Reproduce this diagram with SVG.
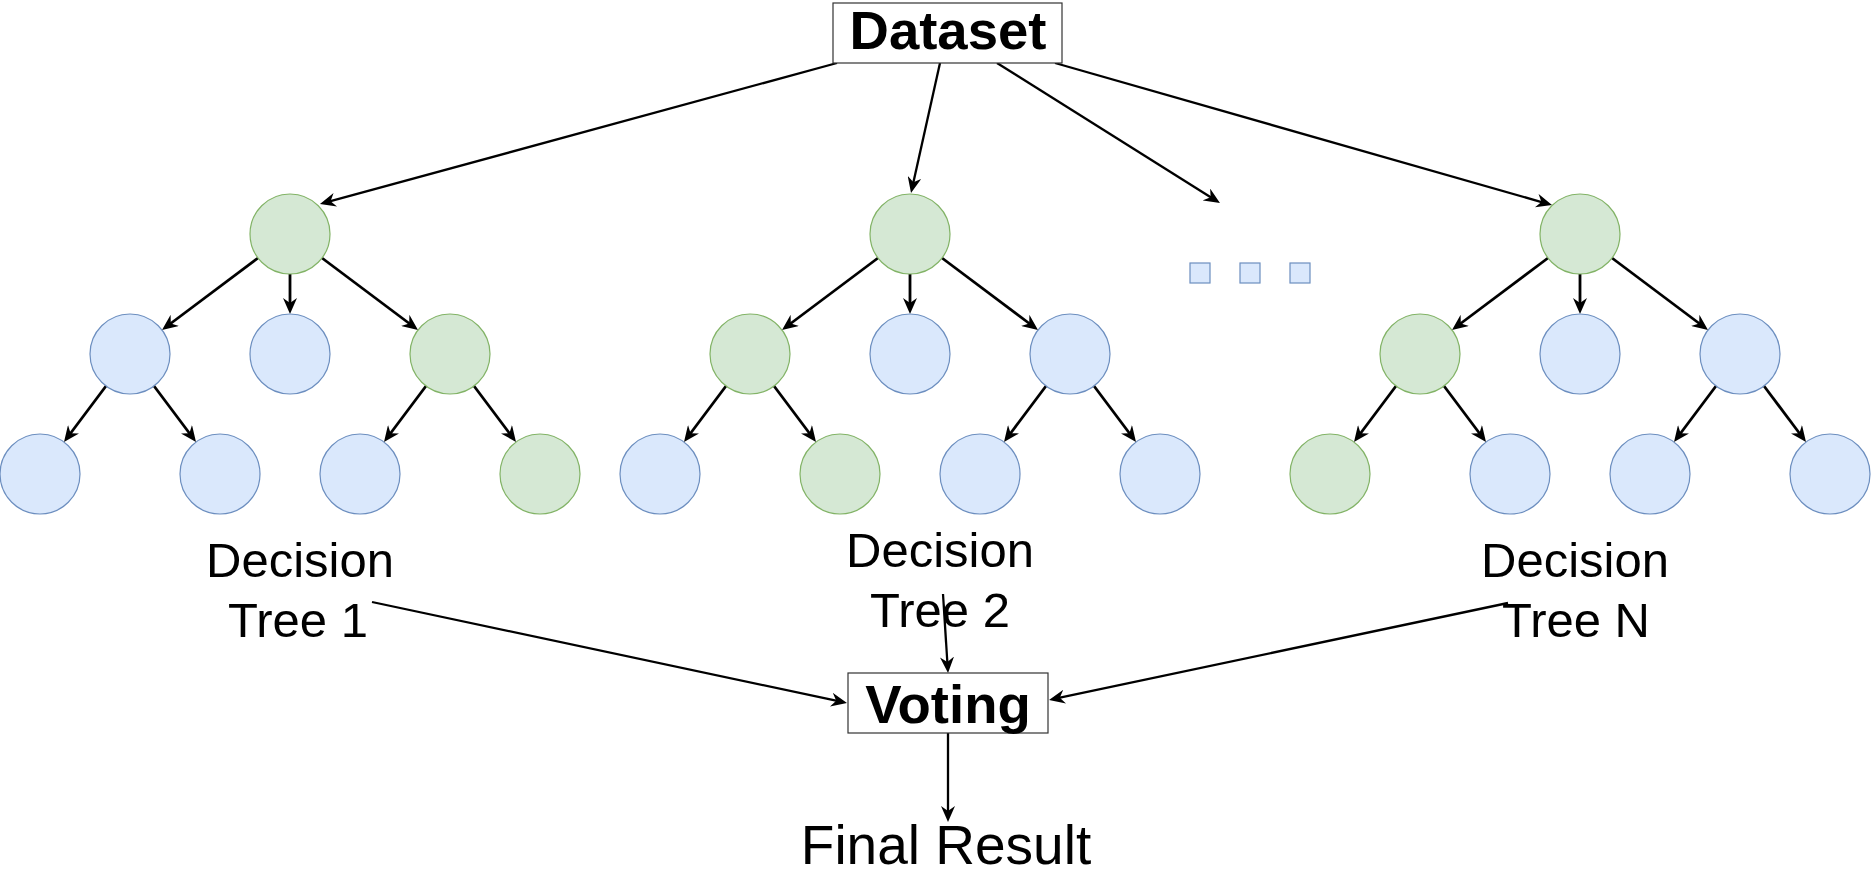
<svg xmlns="http://www.w3.org/2000/svg" width="1871" height="877" viewBox="0 0 1871 877">
<style>
.g{fill:#d5e8d4;stroke:#82b366;stroke-width:1.2}
.b{fill:#dae8fc;stroke:#6c8ebf;stroke-width:1.2}
.box{fill:#fff;stroke:#333;stroke-width:1.2}
.e{stroke:#000;stroke-width:2.3;fill:none;marker-end:url(#arr)}
.te{stroke-width:2.8}
.t{font-family:"Liberation Sans",Arial,sans-serif;fill:#000;text-anchor:middle}
.bold{font-weight:bold;font-size:54.5px}
.lbl{font-size:49px}
</style>
<defs>
<marker id="arr" viewBox="0 0 16 14" refX="6" refY="7" markerWidth="16" markerHeight="14" markerUnits="userSpaceOnUse" orient="auto">
<path d="M0,0 L16,7 L0,14 L5,7 Z" fill="#000"/>
</marker>
</defs>
<g id="connectors">
<line class="e" x1="837" y1="63" x2="329.6" y2="201.4"/>
<line class="e" x1="940" y1="63" x2="913.2" y2="183.2"/>
<line class="e" x1="997" y1="63" x2="1211.5" y2="197.7"/>
<line class="e" x1="1055" y1="63" x2="1542.4" y2="202.3"/>
<!-- tree 1 X=290 -->
<line class="e te" x1="258" y1="258" x2="170" y2="324"/>
<line class="e te" x1="290" y1="274" x2="290" y2="304"/>
<line class="e te" x1="322" y1="258" x2="410" y2="324"/>
<line class="e te" x1="106" y1="386" x2="70" y2="434"/>
<line class="e te" x1="154" y1="386" x2="190" y2="434"/>
<line class="e te" x1="426" y1="386" x2="390" y2="434"/>
<line class="e te" x1="474" y1="386" x2="510" y2="434"/>
<!-- tree 2 X=910 -->
<line class="e te" x1="878" y1="258" x2="790" y2="324"/>
<line class="e te" x1="910" y1="274" x2="910" y2="304"/>
<line class="e te" x1="942" y1="258" x2="1030" y2="324"/>
<line class="e te" x1="726" y1="386" x2="690" y2="434"/>
<line class="e te" x1="774" y1="386" x2="810" y2="434"/>
<line class="e te" x1="1046" y1="386" x2="1010" y2="434"/>
<line class="e te" x1="1094" y1="386" x2="1130" y2="434"/>
<!-- tree N X=1580 -->
<line class="e te" x1="1548" y1="258" x2="1460" y2="324"/>
<line class="e te" x1="1580" y1="274" x2="1580" y2="304"/>
<line class="e te" x1="1612" y1="258" x2="1700" y2="324"/>
<line class="e te" x1="1396" y1="386" x2="1360" y2="434"/>
<line class="e te" x1="1444" y1="386" x2="1480" y2="434"/>
<line class="e te" x1="1716" y1="386" x2="1680" y2="434"/>
<line class="e te" x1="1764" y1="386" x2="1800" y2="434"/>
<!-- to voting -->
<line class="e" x1="372" y1="602" x2="837.2" y2="700.9"/>
<line class="e" x1="943" y1="594" x2="947.4" y2="663"/>
<line class="e" x1="1508" y1="603" x2="1058.8" y2="697.9"/>
<line class="e" x1="948" y1="733" x2="948" y2="812"/>
</g>
<g id="dataset">
<rect class="box" x="833" y="3" width="229" height="60"/>
<text class="t bold" x="948" y="49">Dataset</text>
</g>
<g id="tree1">
<circle class="g" cx="290" cy="234" r="40"/>
<circle class="b" cx="130" cy="354" r="40"/>
<circle class="b" cx="290" cy="354" r="40"/>
<circle class="g" cx="450" cy="354" r="40"/>
<circle class="b" cx="40" cy="474" r="40"/>
<circle class="b" cx="220" cy="474" r="40"/>
<circle class="b" cx="360" cy="474" r="40"/>
<circle class="g" cx="540" cy="474" r="40"/>
<text class="t lbl" x="300" y="577">Decision</text>
<text class="t lbl" x="298" y="637">Tree 1</text>
</g>
<g id="tree2">
<circle class="g" cx="910" cy="234" r="40"/>
<circle class="g" cx="750" cy="354" r="40"/>
<circle class="b" cx="910" cy="354" r="40"/>
<circle class="b" cx="1070" cy="354" r="40"/>
<circle class="b" cx="660" cy="474" r="40"/>
<circle class="g" cx="840" cy="474" r="40"/>
<circle class="b" cx="980" cy="474" r="40"/>
<circle class="b" cx="1160" cy="474" r="40"/>
<text class="t lbl" x="940" y="567">Decision</text>
<text class="t lbl" x="940" y="627">Tree 2</text>
</g>
<g id="ellipsis">
<rect class="b" x="1190" y="263" width="20" height="20"/>
<rect class="b" x="1240" y="263" width="20" height="20"/>
<rect class="b" x="1290" y="263" width="20" height="20"/>
</g>
<g id="treeN">
<circle class="g" cx="1580" cy="234" r="40"/>
<circle class="g" cx="1420" cy="354" r="40"/>
<circle class="b" cx="1580" cy="354" r="40"/>
<circle class="b" cx="1740" cy="354" r="40"/>
<circle class="g" cx="1330" cy="474" r="40"/>
<circle class="b" cx="1510" cy="474" r="40"/>
<circle class="b" cx="1650" cy="474" r="40"/>
<circle class="b" cx="1830" cy="474" r="40"/>
<text class="t lbl" x="1575" y="577">Decision</text>
<text class="t lbl" x="1576" y="637">Tree N</text>
</g>
<g id="voting">
<rect class="box" x="848" y="673" width="200" height="60"/>
<text class="t bold" x="948" y="723">Voting</text>
</g>
<g id="final">
<text class="t" x="946" y="864" font-size="55">Final Result</text>
</g>
</svg>
